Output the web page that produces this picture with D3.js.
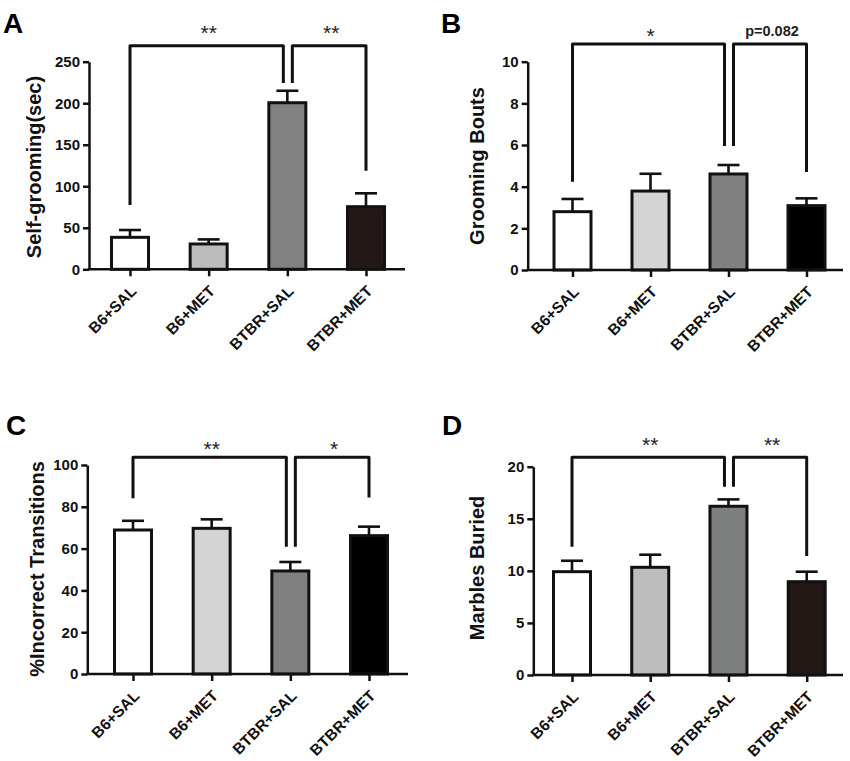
<!DOCTYPE html>
<html><head><meta charset="utf-8">
<script src="https://cdn.jsdelivr.net/npm/d3@7"></script>
<style>body{margin:0;background:#fff} text{font-family:"Liberation Sans",Arial,sans-serif}</style>
</head><body>
<svg id="c" width="850" height="761"></svg>
<script>
// ---- data ----
const categories = ["B6+SAL", "B6+MET", "BTBR+SAL", "BTBR+MET"];

const groomingTime = [38.5, 30.5, 200.6, 75.4];
const groomingTimeSem = [8.8, 5.5, 14.4, 16.1];
const groomingTimeTicks = [0, 50, 100, 150, 200, 250];

const groomingBouts = [2.8, 3.79, 4.61, 3.09];
const groomingBoutsSem = [0.61, 0.83, 0.43, 0.35];
const groomingBoutsTicks = [0, 2, 4, 6, 8, 10];

const incorrectTransitions = [68.9, 69.7, 49.3, 66.2];
const incorrectTransitionsSem = [4.4, 4.3, 4.3, 4.3];
const incorrectTransitionsTicks = [0, 20, 40, 60, 80, 100];

const marblesBuried = [9.92, 10.34, 16.2, 8.96];
const marblesBuriedSem = [1.05, 1.21, 0.66, 0.96];
const marblesBuriedTicks = [0, 5, 10, 15, 20];

// significance brackets: pairs compared, labels, bracket heights and leg ends (data units)
const bracketPairs = [[0, 2], [2, 3]];
const sigLabelsA = ["**", "**"];
const sigLabelsB = ["*", "p=0.082"];
const sigLabelsC = ["**", "*"];
const sigLabelsD = ["**", "**"];
const bracketTopA = 269.3, legEndsA = [[77.4, 224.3], [224.3, 118.7]];
const bracketTopB = 10.85, legEndsB = [[4.24, 5.95], [5.95, 4.70]];
const bracketTopC = 103.7, legEndsC = [[84.1, 60.9], [60.9, 84.5]];
const bracketTopD = 20.9, legEndsD = [[12.31, 18.07], [18.07, 11.42]];

// ---- styles / layout ----
const fillsA = ["#ffffff", "#bcbcbc", "#818181", "#231815"];
const fillsB = ["#ffffff", "#d4d4d4", "#808080", "#000000"];
const fillsD = ["#ffffff", "#bdbdbd", "#7e8080", "#231815"];

const panels = [
  {letter: "A", values: groomingTime, sem: groomingTimeSem, ticks: groomingTimeTicks, ylabel: "Self-grooming(sec)",
   sig: sigLabelsA, top: bracketTopA, legs: legEndsA, fills: fillsA,
   L: {lx: 3, ly: 33, axisX: 89, axisEnd: 405, y0: 269.3, yTop: 61.7, c0: 130, c3: 366, labX: 34, labY: 167, sigOff: 17.5}},
  {letter: "B", values: groomingBouts, sem: groomingBoutsSem, ticks: groomingBoutsTicks, ylabel: "Grooming Bouts",
   sig: sigLabelsB, top: bracketTopB, legs: legEndsB, fills: fillsB,
   L: {lx: 441, ly: 33, axisX: 527.7, axisEnd: 843, y0: 270, yTop: 61.7, c0: 572.5, c3: 806.5, labX: 477, labY: 166, sigOff: 12.5}},
  {letter: "C", values: incorrectTransitions, sem: incorrectTransitionsSem, ticks: incorrectTransitionsTicks, ylabel: "%Incorrect  Transitions",
   sig: sigLabelsC, top: bracketTopC, legs: legEndsC, fills: fillsB,
   L: {lx: 6, ly: 435, axisX: 87.3, axisEnd: 408, y0: 674, yTop: 465, c0: 133, c3: 369, labX: 37, labY: 569, sigOff: 13}},
  {letter: "D", values: marblesBuried, sem: marblesBuriedSem, ticks: marblesBuriedTicks, ylabel: "Marbles Buried",
   sig: sigLabelsD, top: bracketTopD, legs: legEndsD, fills: fillsD,
   L: {lx: 442, ly: 435, axisX: 533.3, axisEnd: 843, y0: 675, yTop: 466.7, c0: 572, c3: 806.7, labX: 477, labY: 568, sigOff: 17}}
];

const svg = d3.select("#c");
const ink = "#111";

panels.forEach(p => {
  const L = p.L;
  const g = svg.append("g");
  const y = d3.scaleLinear().domain([0, p.ticks[p.ticks.length - 1]]).range([L.y0, L.yTop]);
  const x = d3.scalePoint().domain(categories).range([L.c0, L.c3]);
  const barW = 37;

  // panel letter
  g.append("text").attr("x", L.lx).attr("y", L.ly).text(p.letter)
    .attr("font-size", 28).attr("font-weight", "bold").attr("fill", "#000");

  // y label
  g.append("text").attr("transform", `translate(${L.labX},${L.labY}) rotate(-90)`)
    .attr("text-anchor", "middle").attr("dy", "0.35em").text(p.ylabel)
    .attr("font-size", 20).attr("font-weight", "bold").attr("fill", ink);

  // error bars (behind bars)
  const eb = g.append("g").attr("stroke", ink).attr("stroke-width", 2.6).attr("fill", "none");
  categories.forEach((c, i) => {
    const cx = x(c), top = y(p.values[i] + p.sem[i]);
    eb.append("line").attr("x1", cx).attr("x2", cx).attr("y1", y(p.values[i])).attr("y2", top);
    eb.append("line").attr("x1", cx - 11).attr("x2", cx + 11).attr("y1", top).attr("y2", top);
  });

  // bars
  g.append("g").selectAll("rect").data(categories).join("rect")
    .attr("x", c => x(c) - barW / 2).attr("width", barW)
    .attr("y", (c, i) => y(p.values[i])).attr("height", (c, i) => L.y0 - y(p.values[i]))
    .attr("fill", (c, i) => p.fills[i]).attr("stroke", ink).attr("stroke-width", 3);

  // y axis
  const ya = g.append("g").attr("transform", `translate(${L.axisX},0)`)
    .call(d3.axisLeft(y).tickValues(p.ticks).tickSize(6).tickSizeOuter(0).tickPadding(3));
  ya.select(".domain").attr("stroke", ink).attr("stroke-width", 2.5);
  ya.selectAll(".tick line").attr("stroke", ink).attr("stroke-width", 2.5);
  ya.selectAll(".tick text").attr("font-size", 15).attr("font-weight", "bold").attr("fill", ink)
    .attr("font-family", '"Liberation Sans",Arial,sans-serif');

  // x axis
  g.append("line").attr("x1", L.axisX - 1.2).attr("x2", L.axisEnd).attr("y1", L.y0).attr("y2", L.y0)
    .attr("stroke", ink).attr("stroke-width", 2.5);
  const xa = g.append("g").attr("transform", `translate(0,${L.y0})`)
    .call(d3.axisBottom(x).tickSize(7).tickSizeOuter(0));
  xa.select(".domain").remove();
  xa.selectAll(".tick line").attr("stroke", ink).attr("stroke-width", 2.5);
  xa.selectAll(".tick text").attr("text-anchor", "end").attr("y", 0).attr("dy", "0.35em")
    .attr("transform", "translate(3,19) rotate(-45)")
    .attr("font-size", 15.5).attr("font-weight", "bold").attr("fill", ink)
    .attr("font-family", '"Liberation Sans",Arial,sans-serif');

  // significance brackets
  const bg = g.append("g").attr("stroke", ink).attr("stroke-width", 3).attr("fill", "none")
    .attr("stroke-linejoin", "round");
  const yTopB = y(p.top);
  bracketPairs.forEach((pair, k) => {
    const xl = x(categories[pair[0]]) + (k === 1 ? 5 : 0);
    const xr = x(categories[pair[1]]) - (k === 0 ? 4 : 0);
    bg.append("path").attr("d",
      `M${xl},${y(p.legs[k][0])}V${yTopB}H${xr}V${y(p.legs[k][1])}`);
    const lab = p.sig[k];
    const isStar = lab.indexOf("*") === 0;
    g.append("text").attr("x", (xl + xr) / 2 + 2)
      .attr("y", isStar ? yTopB - L.sigOff + 12 : yTopB - L.sigOff + 5)
      .attr("text-anchor", "middle").text(lab)
      .attr("font-size", isStar ? 21 : 14.5).attr("font-weight", isStar ? "normal" : "bold")
      .attr("fill", "#222");
  });
});
</script>
</body></html>
